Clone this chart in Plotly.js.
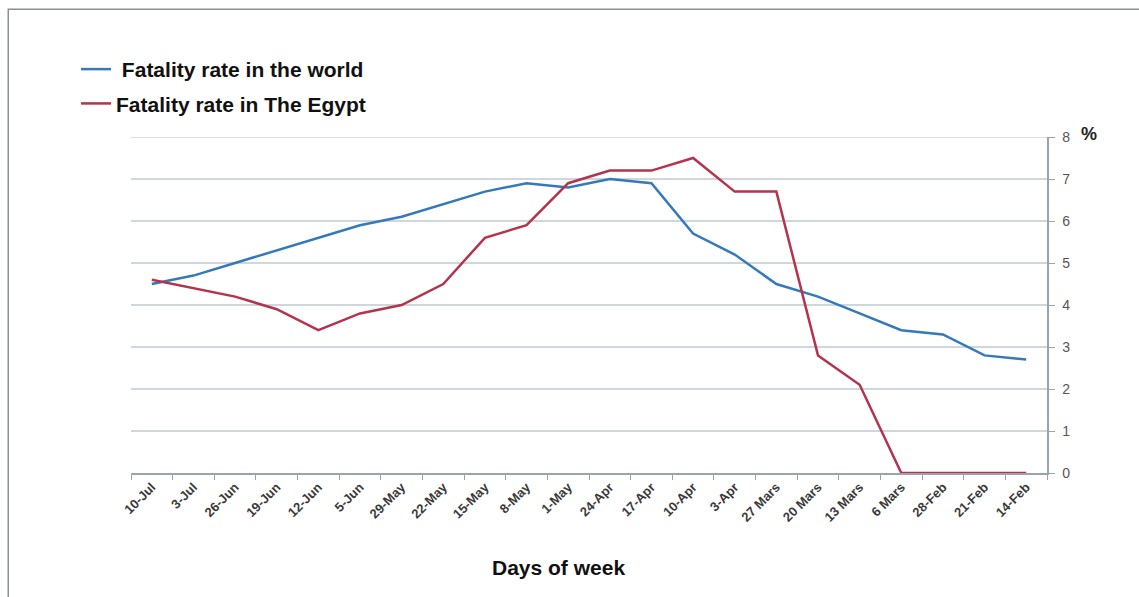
<!DOCTYPE html>
<html>
<head>
<meta charset="utf-8">
<script src="https://cdn.plot.ly/plotly-3.0.1.min.js"></script>
<style>html,body{margin:0;padding:0;background:#fff;}#chart{width:1139px;height:597px;}</style>
</head>
<body>
<div id="chart"></div>
<script>
const categories = ["10-Jul","3-Jul","26-Jun","19-Jun","12-Jun","5-Jun","29-May","22-May","15-May","8-May","1-May","24-Apr","17-Apr","10-Apr","3-Apr","27 Mars","20 Mars","13 Mars","6 Mars","28-Feb","21-Feb","14-Feb"];
const worldRate = [4.5,4.7,5.0,5.3,5.6,5.9,6.1,6.4,6.7,6.9,6.8,7.0,6.9,5.7,5.2,4.5,4.2,3.8,3.4,3.3,2.8,2.7];
const egyptRate = [4.6,4.4,4.2,3.9,3.4,3.8,4.0,4.5,5.6,5.9,6.9,7.2,7.2,7.5,6.7,6.7,2.8,2.1,0,0,0,0];
const yTicks = [0,1,2,3,4,5,6,7,8];

const traces = [
  {x: categories, y: worldRate, type: "scatter", mode: "lines", name: " Fatality rate in the world",
   legendgroup: "a", line: {color: "#3479bb", width: 2.5}},
  {x: categories, y: egyptRate, type: "scatter", mode: "lines", name: "Fatality rate in The Egypt",
   legendgroup: "b", line: {color: "#b3344c", width: 2.5}}
];

const layout = {
  width: 1139, height: 597,
  margin: {l: 131, r: 92, t: 137, b: 124},
  paper_bgcolor: "#fff", plot_bgcolor: "#fff",
  font: {family: "Liberation Sans, Arial, sans-serif", color: "#333"},
  showlegend: true,
  legend: {x: -0.06, y: 1.262, xanchor: "left", yanchor: "top", tracegroupgap: 4,
    font: {size: 21, color: "#111", family: "Liberation Sans, Arial, sans-serif", weight: "bold"},
    bgcolor: "rgba(0,0,0,0)", itemwidth: 30},
  xaxis: {type: "category", tickangle: -45, tickson: "boundaries", ticks: "outside", ticklen: 5,
    tickcolor: "#9aa4ae", showline: true, linecolor: "#9aa4ae", linewidth: 1.5, showgrid: false,
    tickfont: {size: 13, color: "#3a3a3a", family: "Liberation Sans, Arial, sans-serif", weight: "bold"},
    range: [-0.5, 21.5]},
  yaxis: {side: "right", range: [0, 8], tickvals: yTicks, ticks: "outside", ticklen: 6,
    tickcolor: "#9aa4ae", showline: true, linecolor: "#9aa4ae", linewidth: 1.5,
    showgrid: true, gridcolor: "#cfd6dc", gridwidth: 1.5, zeroline: false,
    ticklabelstandoff: 5,
    tickfont: {size: 14, color: "#555"}},
  annotations: [
    {xref: "paper", yref: "paper", x: 1.035, y: 1.008, xanchor: "left", yanchor: "middle",
     text: "<b>%</b>", showarrow: false, font: {size: 18, color: "#222"}},
    {xref: "paper", yref: "paper", x: (558 - 131) / 916, y: -(567 - 473) / 336, xanchor: "center", yanchor: "middle",
     text: "<b>Days of week</b>", showarrow: false, font: {size: 21, color: "#111"}}
  ],
  shapes: [
    {type: "line", xref: "paper", yref: "y", x0: 0, x1: 1, y0: 8, y1: 8,
     line: {color: "#cfd6dc", width: 1.5}, layer: "below"},
    {type: "rect", xref: "paper", yref: "paper", x0: -0.134, x1: 1.2, y0: -0.5, y1: 1.38,
     line: {color: "#8a8f94", width: 1.5}, fillcolor: "rgba(0,0,0,0)", layer: "below"}
  ]
};

Plotly.newPlot("chart", traces, layout, {displayModeBar: false, staticPlot: true});
</script>
</body>
</html>
